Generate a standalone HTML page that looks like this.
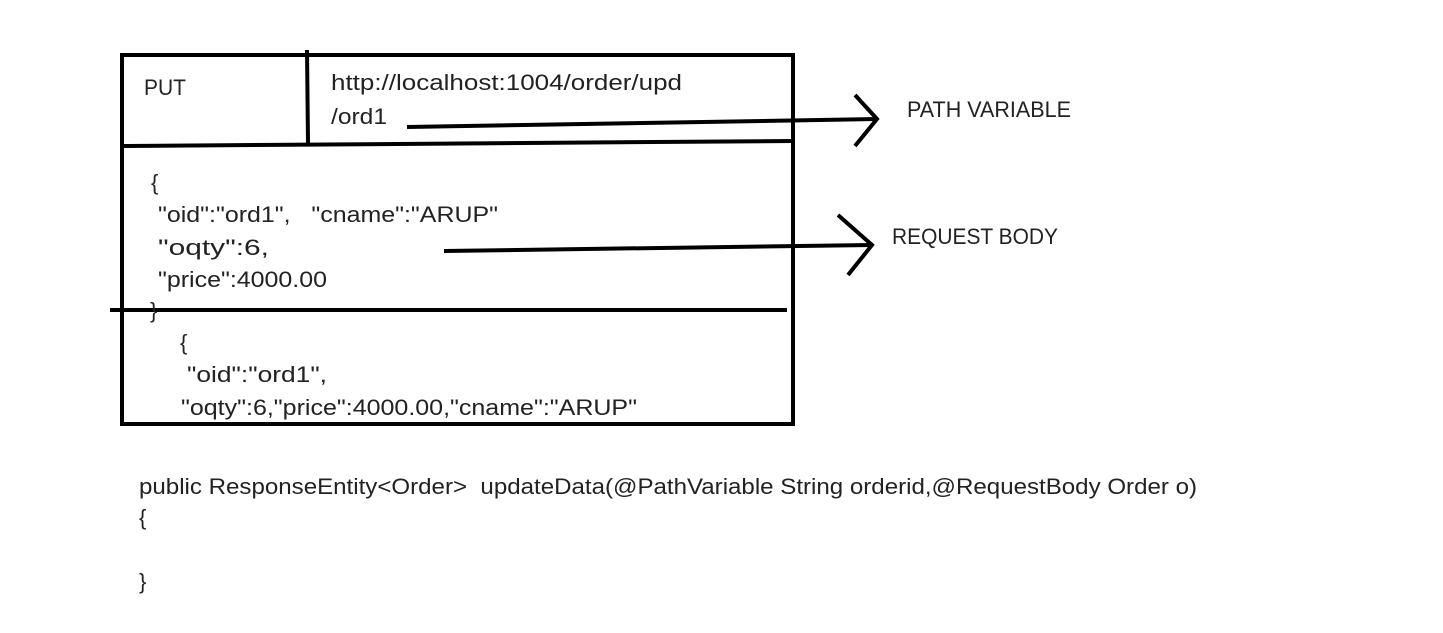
<!DOCTYPE html>
<html><head><meta charset="utf-8"><style>
html,body{margin:0;padding:0;background:#fff;}
svg{display:block;}
text{font-family:"Liberation Sans",sans-serif;fill:#222;font-size:22px;white-space:pre;}
</style></head><body>
<svg width="1443" height="633" viewBox="0 0 1443 633" xmlns="http://www.w3.org/2000/svg" xml:space="preserve">
<g stroke="#000" stroke-width="4" fill="none" stroke-linecap="butt">
<rect x="122" y="55" width="671" height="369"/>
<line x1="307" y1="50" x2="308" y2="143"/>
<line x1="122" y1="146" x2="793" y2="141"/>
<line x1="110" y1="310" x2="787" y2="310"/>
<line x1="407" y1="127" x2="877" y2="119"/>
<polyline points="855,95 877,119 855,146"/>
<line x1="444" y1="251" x2="872" y2="245"/>
<polyline points="838,215 872,245 848,275"/>
</g>
<text x="144" y="95" textLength="42" lengthAdjust="spacingAndGlyphs">PUT</text>
<text x="331" y="90" textLength="351" lengthAdjust="spacingAndGlyphs">http://localhost:1004/order/upd</text>
<text x="331" y="124" textLength="56" lengthAdjust="spacingAndGlyphs">/ord1</text>
<text x="151" y="190">{</text>
<text x="158" y="222" textLength="340" lengthAdjust="spacingAndGlyphs">"oid":"ord1",   "cname":"ARUP"</text>
<text x="158" y="255" textLength="111" lengthAdjust="spacingAndGlyphs">"oqty":6,</text>
<text x="158" y="287" textLength="169" lengthAdjust="spacingAndGlyphs">"price":4000.00</text>
<text x="150" y="318">}</text>
<text x="180" y="350">{</text>
<text x="187" y="382" textLength="140" lengthAdjust="spacingAndGlyphs">"oid":"ord1",</text>
<text x="181" y="415" textLength="456" lengthAdjust="spacingAndGlyphs">"oqty":6,"price":4000.00,"cname":"ARUP"</text>
<text x="907" y="117" textLength="164" lengthAdjust="spacingAndGlyphs">PATH VARIABLE</text>
<text x="892" y="244" textLength="166" lengthAdjust="spacingAndGlyphs">REQUEST BODY</text>
<text x="139" y="494" textLength="1058" lengthAdjust="spacingAndGlyphs">public ResponseEntity&lt;Order&gt;  updateData(@PathVariable String orderid,@RequestBody Order o)</text>
<text x="139" y="525">{</text>
<text x="139" y="589">}</text>
</svg>
</body></html>
